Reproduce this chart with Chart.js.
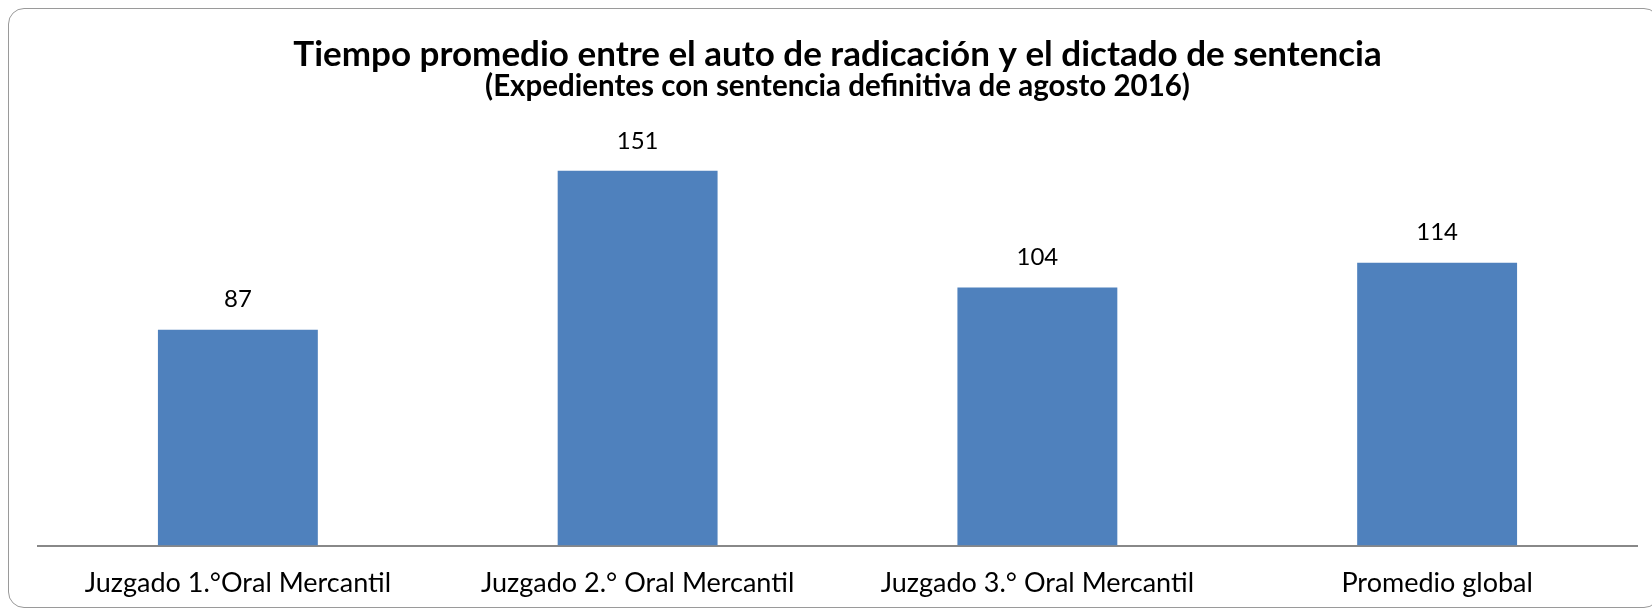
<!DOCTYPE html>
<html>
<head>
<meta charset="utf-8">
<script src="https://cdn.jsdelivr.net/npm/chart.js@4/dist/chart.umd.min.js"></script>
<style>
  html, body { margin: 0; padding: 0; background: #fff; overflow: hidden; }
  #wrap { position: relative; width: 1652px; height: 611px; overflow: hidden; }
  #frame {
    position: absolute; left: 8px; top: 8px; width: 1652px; height: 600px;
    border: 1.5px solid #9a9a9a; border-radius: 16px; box-sizing: border-box;
  }
  canvas { position: absolute; left: 0; top: 0; }
</style>
</head>
<body>
<div id="wrap">
  <div id="frame"></div>
  <canvas id="c" width="1652" height="611"></canvas>
</div>
<script>
// Data
const categories = [
  'Juzgado 1.°Oral Mercantil',
  'Juzgado 2.° Oral Mercantil',
  'Juzgado 3.° Oral Mercantil',
  'Promedio global'
];
const values = [87, 151, 104, 114];
const titleText = 'Tiempo promedio entre el auto de radicación y el dictado de sentencia';
const subtitleText = '(Expedientes con sentencia definitiva de agosto 2016)';

const FONT = 'Lato, "Open Sans", sans-serif';

// value labels above each bar
const valueLabels = {
  id: 'valueLabels',
  afterDatasetsDraw(chart) {
    const ctx = chart.ctx;
    const meta = chart.getDatasetMeta(0);
    ctx.save();
    ctx.font = '24px ' + FONT;
    ctx.fillStyle = '#000';
    ctx.textAlign = 'center';
    ctx.textBaseline = 'bottom';
    meta.data.forEach((bar, i) => {
      ctx.fillText(String(values[i]), bar.x, bar.y - 18);
    });
    ctx.restore();
  }
};

new Chart(document.getElementById('c'), {
  type: 'bar',
  data: {
    labels: categories,
    datasets: [{
      data: values,
      backgroundColor: '#4F81BD',
      borderWidth: 0,
      categoryPercentage: 0.4,
      barPercentage: 1.0
    }]
  },
  options: {
    responsive: false,
    animation: false,
    layout: { padding: { left: 38, right: 15, top: 20, bottom: -9 } },
    plugins: {
      legend: { display: false },
      tooltip: { enabled: false },
      title: {
        display: true,
        text: titleText,
        color: '#000',
        font: { family: FONT, size: 35, weight: 'bold', lineHeight: 1.0 },
        padding: { top: 17, bottom: 0 }
      },
      subtitle: {
        display: true,
        text: subtitleText,
        color: '#000',
        font: { family: FONT, size: 29.5, weight: 'bold', lineHeight: 1.0 },
        padding: { top: 0, bottom: 47 }
      }
    },
    scales: {
      x: {
        grid: { display: false, drawTicks: false },
        border: { display: true, color: '#888', width: 2 },
        ticks: { color: '#000', font: { family: FONT, size: 27 }, padding: 21, maxRotation: 0 }
      },
      y: {
        display: false,
        min: 0,
        max: 160
      }
    }
  },
  plugins: [valueLabels]
});
</script>
</body>
</html>
